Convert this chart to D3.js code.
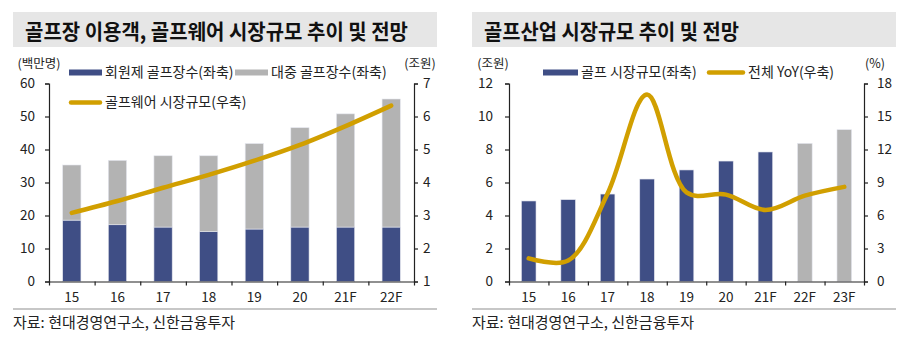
<!DOCTYPE html>
<html>
<head>
<meta charset="utf-8">
<script src="https://cdnjs.cloudflare.com/ajax/libs/d3/7.8.5/d3.min.js"></script>
<style>
  body { margin: 0; background: #fff; }
  svg { display: block; font-family: "Noto Sans CJK KR", "Noto Sans", sans-serif; }
  .axis text { font-size: 13.5px; fill: #222; font-family: "Noto Sans CJK KR", sans-serif; }
  .axis path, .axis line { stroke: #222; stroke-width: 1.2; }
</style>
</head>
<body>
<svg id="chart" width="913" height="345"></svg>
<script>
// left panel: golf course visitors + golf wear market
var golfYears = ["15", "16", "17", "18", "19", "20", "21F", "22F"];
var memberVisitors = [18.6, 17.2, 16.5, 15.1, 15.9, 16.5, 16.5, 16.5];
var publicVisitors = [16.7, 19.5, 21.6, 23.0, 25.9, 30.1, 34.3, 38.8];
var wearMarket = [3.08, 3.44, 3.84, 4.23, 4.66, 5.14, 5.71, 6.33];
var visitorTicks = [0, 10, 20, 30, 40, 50, 60];
var wearTicks = [1, 2, 3, 4, 5, 6, 7];

// right panel: golf industry market + YoY
var industryYears = ["15", "16", "17", "18", "19", "20", "21F", "22F", "23F"];
var industryMarket = [4.88, 4.96, 5.30, 6.21, 6.76, 7.30, 7.85, 8.37, 9.20];
var industryYoY = [2.1, 1.9, 8.0, 17.0, 8.1, 7.9, 6.5, 7.8, 8.6];
var forecastYears = ["22F", "23F"];
var marketTicks = [0, 2, 4, 6, 8, 10, 12];
var yoyTicks = [0, 3, 6, 9, 12, 15, 18];

var blue = "#3f4e85", gray = "#b3b3b3", gold = "#d19f00";
var plotTop = 83.5, plotBottom = 281.5;
var fmt = d3.format("d");

var svg = d3.select("#chart");

function panelFrame(x0, x1, title, titleLen) {
  svg.append("rect")
      .attr("x", x0).attr("y", 12)
      .attr("width", x1 - x0).attr("height", 35)
      .attr("fill", "#e6e6e6");
  svg.append("text")
      .attr("x", x0 + 12).attr("y", 39)
      .attr("textLength", titleLen)
      .attr("lengthAdjust", "spacingAndGlyphs")
      .style("font-size", "21px")
      .style("font-weight", "bold")
      .attr("fill", "#111")
      .text(title);
  svg.append("line")
      .attr("x1", x0).attr("x2", x1)
      .attr("y1", 309).attr("y2", 309)
      .attr("stroke", "#b5b5b5").attr("stroke-width", 1.5);
  svg.append("text")
      .attr("x", x0).attr("y", 328)
      .style("font-size", "15px")
      .attr("fill", "#222")
      .text("자료: 현대경영연구소, 신한금융투자");
}

function unitLabel(x, txt) {
  svg.append("text")
      .attr("x", x).attr("y", 64)
      .attr("dy", "0.35em")
      .attr("text-anchor", "middle")
      .style("font-size", "12.5px")
      .attr("fill", "#222")
      .text(txt);
}

function legendItem(x, y, w, color, kind, txt) {
  if (kind === "bar") {
    svg.append("rect")
        .attr("x", x).attr("y", y - 3)
        .attr("width", w).attr("height", 6)
        .attr("fill", color);
  } else {
    svg.append("line")
        .attr("x1", x + 2).attr("x2", x + w - 2)
        .attr("y1", y).attr("y2", y)
        .attr("stroke", color).attr("stroke-width", 4.5)
        .attr("stroke-linecap", "round");
  }
  svg.append("text")
      .attr("x", x + w + 3).attr("y", y)
      .attr("dy", "0.35em")
      .style("font-size", "14px")
      .attr("fill", "#222")
      .text(txt);
}

function bottomAxis(x, left, right, n, labelPad) {
  var b = d3.scaleLinear().domain([0, n]).range([left, right]);
  svg.append("g")
      .attr("class", "axis")
      .attr("transform", "translate(0," + plotBottom + ")")
      .call(d3.axisBottom(b).tickValues(d3.range(n + 1)).tickFormat("").tickSize(4).tickSizeOuter(0));
  svg.append("g")
      .attr("class", "axis")
      .attr("transform", "translate(0," + plotBottom + ")")
      .call(d3.axisBottom(x).tickSize(0).tickPadding(labelPad))
      .call(function(g) { g.select(".domain").remove(); });
}

function drawGolfCourses() {
  var left = 49, right = 414;
  panelFrame(13, 437, "골프장 이용객, 골프웨어 시장규모 추이 및 전망", 383);

  var x = d3.scaleBand().domain(golfYears).range([left, right]).paddingInner(0.6).paddingOuter(0.3);
  var y = d3.scaleLinear().domain([0, 60]).range([plotBottom, plotTop]);
  var y2 = d3.scaleLinear().domain([1, 7]).range([plotBottom, plotTop]);

  var rows = golfYears.map(function(d, i) {
    return {year: d, member: memberVisitors[i], pub: publicVisitors[i]};
  });
  var series = d3.stack().keys(["member", "pub"])(rows);
  var z = d3.scaleOrdinal().domain(["member", "pub"]).range([blue, gray]);

  svg.append("g").selectAll("g")
    .data(series)
    .enter().append("g")
      .attr("fill", function(d) { return z(d.key); })
    .selectAll("rect")
    .data(function(d) { return d; })
    .enter().append("rect")
      .attr("x", function(d) { return x(d.data.year); })
      .attr("y", function(d) { return y(d[1]); })
      .attr("height", function(d) { return y(d[0]) - y(d[1]); })
      .attr("width", x.bandwidth())
      .attr("stroke", "#e4e6ee").attr("stroke-width", 0.6);

  var line = d3.line()
      .x(function(d, i) { return x(golfYears[i]) + x.bandwidth() / 2; })
      .y(function(d) { return y2(d); })
      .curve(d3.curveCatmullRom.alpha(0.5));
  svg.append("path")
      .datum(wearMarket)
      .attr("fill", "none")
      .attr("stroke", gold).attr("stroke-width", 4.5)
      .attr("stroke-linecap", "round").attr("stroke-linejoin", "round")
      .attr("d", line);

  svg.append("g")
      .attr("class", "axis")
      .attr("transform", "translate(" + left + ",0)")
      .call(d3.axisLeft(y).tickValues(visitorTicks).tickFormat(fmt).tickSize(4).tickSizeOuter(4).tickPadding(10));
  svg.append("g")
      .attr("class", "axis")
      .attr("transform", "translate(" + right + ",0)")
      .call(d3.axisRight(y2).tickValues(wearTicks).tickFormat(fmt).tickSize(4).tickSizeOuter(4).tickPadding(5));
  bottomAxis(x, left, right, golfYears.length, 11);

  unitLabel(39, "(백만명)");
  unitLabel(420, "(조원)");
  legendItem(69, 72.5, 33, blue, "bar", "회원제 골프장수(좌축)");
  legendItem(235, 72.5, 33, gray, "bar", "대중 골프장수(좌축)");
  legendItem(69, 102.5, 33, gold, "line", "골프웨어 시장규모(우축)");
}

function drawGolfIndustry() {
  var left = 509, right = 864;
  panelFrame(472, 896, "골프산업 시장규모 추이 및 전망", 255);

  var x = d3.scaleBand().domain(industryYears).range([left, right]).paddingInner(0.63).paddingOuter(0.315);
  var y = d3.scaleLinear().domain([0, 12]).range([plotBottom, plotTop]);
  var y2 = d3.scaleLinear().domain([0, 18]).range([plotBottom, plotTop]);

  svg.append("g").selectAll("rect")
    .data(industryYears)
    .enter().append("rect")
      .attr("x", function(d) { return x(d); })
      .attr("y", function(d, i) { return y(industryMarket[i]); })
      .attr("height", function(d, i) { return plotBottom - y(industryMarket[i]); })
      .attr("width", x.bandwidth())
      .attr("fill", function(d) { return forecastYears.indexOf(d) >= 0 ? gray : blue; })
      .attr("stroke", "#e4e6ee").attr("stroke-width", 0.6);

  var line = d3.line()
      .x(function(d, i) { return x(industryYears[i]) + x.bandwidth() / 2; })
      .y(function(d) { return y2(d); })
      .curve(d3.curveCatmullRom.alpha(0.5));
  svg.append("path")
      .datum(industryYoY)
      .attr("fill", "none")
      .attr("stroke", gold).attr("stroke-width", 4.5)
      .attr("stroke-linecap", "round").attr("stroke-linejoin", "round")
      .attr("d", line);

  svg.append("g")
      .attr("class", "axis")
      .attr("transform", "translate(" + left + ",0)")
      .call(d3.axisLeft(y).tickValues(marketTicks).tickFormat(fmt).tickSize(4).tickSizeOuter(4).tickPadding(12));
  svg.append("g")
      .attr("class", "axis")
      .attr("transform", "translate(" + right + ",0)")
      .call(d3.axisRight(y2).tickValues(yoyTicks).tickFormat(fmt).tickSize(4).tickSizeOuter(4).tickPadding(9));
  bottomAxis(x, left, right, industryYears.length, 11);

  unitLabel(493, "(조원)");
  unitLabel(875, "(%)");
  legendItem(543, 72.5, 35, blue, "bar", "골프 시장규모(좌축)");
  legendItem(707, 72.5, 38, gold, "line", "전체 YoY(우축)");
}

drawGolfCourses();
drawGolfIndustry();
</script>
</body>
</html>
